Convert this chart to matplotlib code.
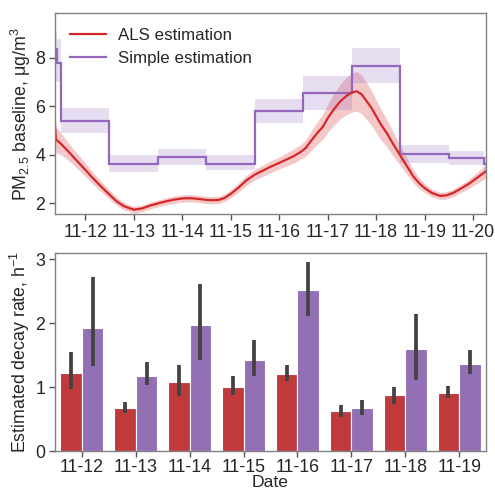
import matplotlib
matplotlib.use("Agg")
import matplotlib.pyplot as plt
import numpy as np

plt.rcParams['font.family'] = ['Liberation Sans', 'DejaVu Sans']
plt.rcParams['mathtext.fontset'] = 'custom'
plt.rcParams['mathtext.rm'] = 'Liberation Sans'
plt.rcParams['mathtext.it'] = 'Liberation Sans:italic'
plt.rcParams['font.size'] = 12
plt.rcParams['text.color'] = '#262626'
plt.rcParams['axes.labelcolor'] = '#262626'
plt.rcParams['xtick.color'] = '#555555'
plt.rcParams['ytick.color'] = '#555555'
plt.rcParams['xtick.labelcolor'] = '#262626'
plt.rcParams['ytick.labelcolor'] = '#262626'

# ---------------- data: top panel ----------------
# ALS estimation (day of November, value, half-width of band)
als_day = [11.375, 11.40, 11.50, 11.62, 11.75, 12.00, 12.15, 12.31, 12.50, 12.65,
           12.80, 13.00, 13.17, 13.34, 13.50, 13.68, 13.85, 14.03, 14.20, 14.35,
           14.57, 14.75, 14.88, 15.00, 15.15, 15.33, 15.50, 15.65, 15.80, 16.00,
           16.15, 16.29, 16.45, 16.55, 16.65, 16.78, 16.90, 17.00, 17.13, 17.26,
           17.40, 17.50, 17.60, 17.70, 17.81, 17.90, 18.00, 18.10, 18.22, 18.35,
           18.49, 18.63, 18.77, 18.90, 19.00, 19.15, 19.32, 19.45, 19.59, 19.75,
           19.90, 20.00, 20.12, 20.27]
als_value = [5.15, 4.62, 4.45, 4.20, 3.92, 3.38, 3.05, 2.72, 2.35, 2.07,
             1.87, 1.73, 1.78, 1.90, 1.99, 2.08, 2.15, 2.20, 2.20, 2.17,
             2.12, 2.13, 2.22, 2.38, 2.62, 2.95, 3.18, 3.33, 3.48, 3.66,
             3.80, 3.93, 4.12, 4.28, 4.55, 4.88, 5.15, 5.50, 5.88, 6.20,
             6.45, 6.57, 6.62, 6.50, 6.20, 5.95, 5.60, 5.25, 4.90, 4.45,
             4.00, 3.55, 3.10, 2.80, 2.63, 2.42, 2.30, 2.32, 2.42, 2.60,
             2.78, 2.92, 3.10, 3.32]
als_err = [0.65, 0.55, 0.45, 0.38, 0.33, 0.28, 0.25, 0.22, 0.19, 0.17,
           0.15, 0.14, 0.14, 0.14, 0.14, 0.15, 0.15, 0.15, 0.15, 0.15,
           0.15, 0.15, 0.16, 0.17, 0.19, 0.21, 0.22, 0.23, 0.24, 0.25,
           0.27, 0.29, 0.31, 0.34, 0.40, 0.46, 0.52, 0.58, 0.66, 0.72,
           0.78, 0.81, 0.82, 0.80, 0.76, 0.72, 0.68, 0.63, 0.57, 0.50,
           0.42, 0.34, 0.27, 0.22, 0.19, 0.16, 0.15, 0.15, 0.16, 0.17,
           0.19, 0.21, 0.24, 0.27]

# Simple estimation (step function)
simple_edges = [11.375, 11.41, 11.5, 12.5, 13.5, 14.5, 15.5, 16.5, 17.5, 18.5,
                19.5, 20.23, 20.27]
simple_value = [8.35, 7.80, 5.38, 3.63, 3.89, 3.63, 5.79, 6.53, 7.66, 4.04, 3.85, 3.60]
simple_lower = [7.00, 7.00, 4.90, 3.27, 3.59, 3.35, 5.33, 5.86, 6.98, 3.66, 3.56, 3.30]
simple_upper = [9.10, 8.80, 5.95, 3.97, 4.25, 4.00, 6.30, 7.26, 8.42, 4.41, 4.16, 3.90]

top_ticks = [12, 13, 14, 15, 16, 17, 18, 19, 20]
top_ticklabels = ['11-12', '11-13', '11-14', '11-15', '11-16', '11-17', '11-18', '11-19', '11-20']

# ---------------- data: bottom panel ----------------
dates = ['11-12', '11-13', '11-14', '11-15', '11-16', '11-17', '11-18', '11-19']
als_rate = [1.22, 0.67, 1.08, 1.01, 1.21, 0.62, 0.87, 0.91]
als_rate_lo = [0.97, 0.60, 0.86, 0.88, 1.09, 0.54, 0.74, 0.83]
als_rate_hi = [1.55, 0.77, 1.35, 1.18, 1.34, 0.72, 1.01, 1.02]
simple_rate = [1.92, 1.18, 1.98, 1.43, 2.52, 0.68, 1.60, 1.37]
simple_rate_lo = [1.33, 1.03, 1.42, 1.18, 2.11, 0.57, 1.12, 1.20]
simple_rate_hi = [2.73, 1.40, 2.61, 1.74, 2.96, 0.80, 2.15, 1.58]

RED = '#d62728'
PURPLE = '#9467bd'
RED_BAR = '#c03a3c'
PURPLE_BAR = '#9370b4'
SPINE = '#808080'

fig = plt.figure(figsize=(4.95, 4.96), dpi=100)
ax1 = fig.add_axes([0.111, 0.5685, 0.871, 0.405])
ax2 = fig.add_axes([0.111, 0.0907, 0.871, 0.399])

# ---- top panel ----
ad = np.array(als_day)
av = np.array(als_value)
ae = np.array(als_err)
ax1.fill_between(ad, av - ae, av + ae, color=RED, alpha=0.25, lw=0)
ax1.plot(ad, av, color=RED, lw=1.6, label='ALS estimation')

ax1.stairs(simple_upper, simple_edges, baseline=simple_lower, fill=True,
           color=PURPLE, alpha=0.22, lw=0)
ax1.stairs(simple_value, simple_edges, baseline=None, color=PURPLE, lw=1.6,
           label='Simple estimation')

ax1.set_xlim(11.375, 20.27)
ax1.set_ylim(1.55, 9.85)
ax1.set_xticks(top_ticks)
ax1.set_xticklabels(top_ticklabels)
ax1.set_yticks([2, 4, 6, 8])
ax1.set_ylabel('PM$_{2.5}$ baseline, μg/m$^3$', fontsize=12.8, labelpad=2)
leg = ax1.legend(loc='upper left', frameon=False, fontsize=12.2, handlelength=2.1,
                 handletextpad=0.7, borderaxespad=0.5, labelspacing=0.45)

# ---- bottom panel ----
x = np.arange(len(dates))
w = 0.4
a_err = [np.array(als_rate) - np.array(als_rate_lo), np.array(als_rate_hi) - np.array(als_rate)]
s_err = [np.array(simple_rate) - np.array(simple_rate_lo), np.array(simple_rate_hi) - np.array(simple_rate)]
ax2.bar(x - w / 2, als_rate, width=w, color=RED_BAR, edgecolor='white', lw=0.8)
ax2.bar(x + w / 2, simple_rate, width=w, color=PURPLE_BAR, edgecolor='white', lw=0.8)
ax2.errorbar(x - w / 2, als_rate, yerr=a_err, fmt='none', ecolor='#424242', elinewidth=2.7, capsize=0)
ax2.errorbar(x + w / 2, simple_rate, yerr=s_err, fmt='none', ecolor='#424242', elinewidth=2.7, capsize=0)
ax2.set_xlim(-0.5, len(dates) - 0.5)
ax2.set_ylim(0, 3.1)
ax2.set_xticks(x)
ax2.set_xticklabels(dates)
ax2.set_yticks([0, 1, 2, 3])
ax2.set_xlabel('Date', fontsize=12.6, labelpad=-1)
ax2.set_ylabel('Estimated decay rate, h$^{-1}$', fontsize=12.8, labelpad=2)

for ax in (ax1, ax2):
    for s in ax.spines.values():
        s.set_color(SPINE)
        s.set_linewidth(1.0)
    ax.tick_params(length=4, width=1.0, labelsize=12.8, pad=3)
ax2.tick_params(axis='x', pad=2)

fig.savefig('out.png', dpi=100)
